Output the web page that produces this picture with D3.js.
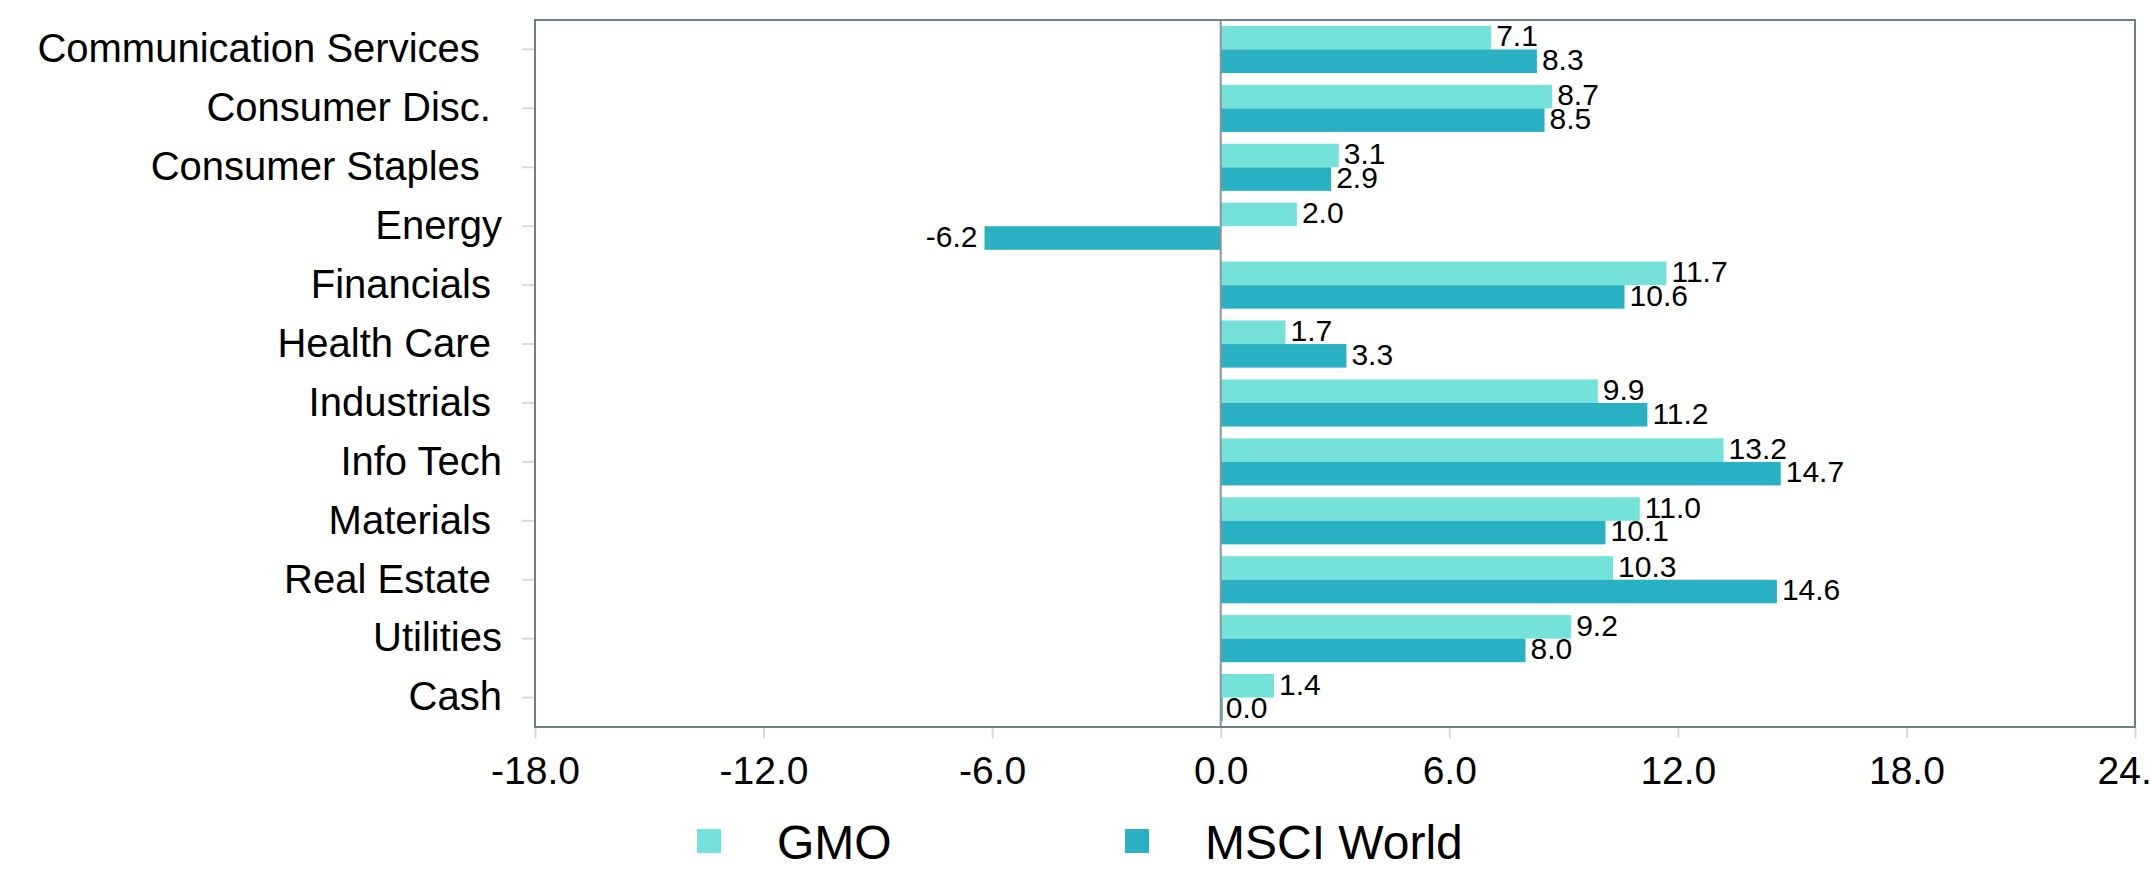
<!DOCTYPE html>
<html>
<head>
<meta charset="utf-8">
<script src="https://cdn.jsdelivr.net/npm/d3@7"></script>
<style>
  html, body { margin: 0; padding: 0; background: #fff; }
  svg { display: block; font-family: "Liberation Sans", Arial, Helvetica, sans-serif; }
</style>
</head>
<body>
<svg id="chart" width="2150" height="870"></svg>
<script>
// ---- data ----
const categories = ["Communication Services  ", "Consumer Disc. ", "Consumer Staples  ", "Energy", "Financials ", "Health Care ", "Industrials ", "Info Tech", "Materials ", "Real Estate ", "Utilities", "Cash"];
const seriesNames = ["GMO", "MSCI World"];
const gmoValues  = [7.1, 8.7, 3.1, 2.0, 11.7, 1.7, 9.9, 13.2, 11.0, 10.3, 9.2, 1.4];
const msciValues = [8.3, 8.5, 2.9, -6.2, 10.6, 3.3, 11.2, 14.7, 10.1, 14.6, 8.0, 0.0];
const xTicks = [-18, -12, -6, 0, 6, 12, 18, 24];
const colors = ["#74e2d9", "#2ab0c3"];

// ---- layout ----
const plotL = 535, plotR = 2135, plotT = 20, plotB = 727;
const svg = d3.select("#chart");
const fmt = v => (+v).toFixed(1);

const x = d3.scaleLinear().domain([-18, 24]).range([plotL, plotR]);
const y0 = d3.scaleBand().domain(categories).range([plotT, plotB]).paddingInner(0.2).paddingOuter(0.1);
const y1 = d3.scaleBand().domain(seriesNames).range([0, y0.bandwidth()]);
const color = d3.scaleOrdinal().domain(seriesNames).range(colors);

const rows = categories.map((c, i) => ({
  cat: c,
  vals: [{s: seriesNames[0], v: gmoValues[i]}, {s: seriesNames[1], v: msciValues[i]}]
}));

// y axis ticks & labels
const yAxis = svg.append("g")
  .attr("transform", `translate(${plotL},0)`)
  .call(d3.axisLeft(y0).tickSize(13).tickPadding(20));
yAxis.select(".domain").remove();
yAxis.selectAll(".tick line").attr("stroke", "#d9d9d9").attr("stroke-width", 2);
yAxis.selectAll(".tick text")
  .attr("font-size", 40).attr("fill", "#000")
  .attr("xml:space", "preserve").style("white-space", "pre");

// x axis
const xAxis = svg.append("g")
  .attr("transform", `translate(0,${plotB})`)
  .call(d3.axisBottom(x).tickValues(xTicks).tickFormat(fmt).tickSize(11).tickPadding(18));
xAxis.select(".domain").remove();
xAxis.selectAll(".tick line").attr("stroke", "#d9d9d9").attr("stroke-width", 2);
xAxis.selectAll(".tick text").attr("font-size", 39).attr("fill", "#000");

// bars
const groups = svg.append("g").selectAll("g")
  .data(rows).join("g")
  .attr("transform", d => `translate(0,${y0(d.cat)})`);

groups.selectAll("rect")
  .data(d => d.vals).join("rect")
  .attr("x", d => Math.min(x(0), x(d.v)))
  .attr("y", d => y1(d.s))
  .attr("width", d => Math.max(2, Math.abs(x(d.v) - x(0))))
  .attr("height", y1.bandwidth())
  .attr("fill", d => color(d.s));

// zero line
svg.append("line")
  .attr("x1", x(0)).attr("x2", x(0))
  .attr("y1", plotT).attr("y2", plotB)
  .attr("stroke", "#8a949c").attr("stroke-width", 2);

// value labels
groups.selectAll("text.val")
  .data(d => d.vals).join("text")
  .attr("class", "val")
  .attr("x", d => d.v < 0 ? x(d.v) - 7 : x(d.v) + 5)
  .attr("y", d => y1(d.s) + y1.bandwidth() / 2 - 2)
  .attr("dy", "0.36em")
  .attr("text-anchor", d => d.v < 0 ? "end" : "start")
  .attr("font-size", 30)
  .attr("fill", "#000")
  .text(d => fmt(d.v));

// frame
svg.append("rect")
  .attr("x", plotL).attr("y", plotT)
  .attr("width", plotR - plotL).attr("height", plotB - plotT)
  .attr("fill", "none").attr("stroke", "#6f808d").attr("stroke-width", 2);

// legend
const legendX = [697, 1125];
const legend = svg.append("g").selectAll("g")
  .data(seriesNames).join("g")
  .attr("transform", (d, i) => `translate(${legendX[i]},829)`);
legend.append("rect").attr("width", 24).attr("height", 24).attr("fill", d => color(d));
legend.append("text").attr("x", 80).attr("y", 30)
  .attr("font-size", 48).attr("fill", "#000").text(d => d);
</script>
</body>
</html>
